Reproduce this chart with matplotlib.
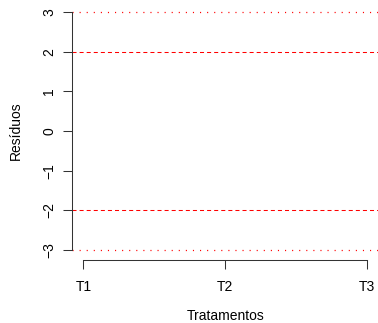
import matplotlib
matplotlib.use("Agg")
import matplotlib.pyplot as plt

categories = ["T1", "T2", "T3"]
y_ticks = [-3, -2, -1, 0, 1, 2, 3]
dashed_levels = [2, -2]
dotted_levels = [3, -3]

plt.rcParams['font.family'] = ['Liberation Sans', 'DejaVu Sans']
plt.rcParams['lines.scale_dashes'] = False

W, H = 378, 323
fig = plt.figure(figsize=(W/100, H/100), dpi=100)
ax = fig.add_axes([72/W, 1-259.5/H, (378.6-72)/W, (259.5-2.5)/H])
ax.set_xlim(0.92, 3.08)
ax.set_ylim(-3.24, 3.24)

xpos = list(range(1, len(categories)+1))
for lv in dashed_levels:
    ax.axhline(lv, color='#ff0000', lw=0.75, dashes=(2.9, 2.2), clip_on=False)
for lv in dotted_levels:
    ax.axhline(lv, color='#ff0000', lw=0.9, dashes=(0.8, 4.3), clip_on=False)

for s in ['top', 'right']:
    ax.spines[s].set_visible(False)
ax.spines['left'].set_bounds(min(y_ticks), max(y_ticks))
ax.spines['bottom'].set_bounds(xpos[0], xpos[-1])
for s in ['left', 'bottom']:
    ax.spines[s].set_linewidth(0.75)
    ax.spines[s].set_color('#333333')

ax.set_yticks(y_ticks)
ax.set_yticklabels([str(v).replace('-', '\u2212') for v in y_ticks], rotation=90, va='center')
ax.set_xticks(xpos)
ax.set_xticklabels(categories)
ax.tick_params(axis='both', direction='out', length=6.5, width=0.75, color='#333333', labelsize=10)
ax.tick_params(axis='y', pad=5)
ax.tick_params(axis='x', pad=8)

ax.set_ylabel("Resíduos", fontsize=10, labelpad=14)
ax.set_xlabel("Tratamentos", fontsize=10, labelpad=11)

fig.savefig("out.png", dpi=100)
